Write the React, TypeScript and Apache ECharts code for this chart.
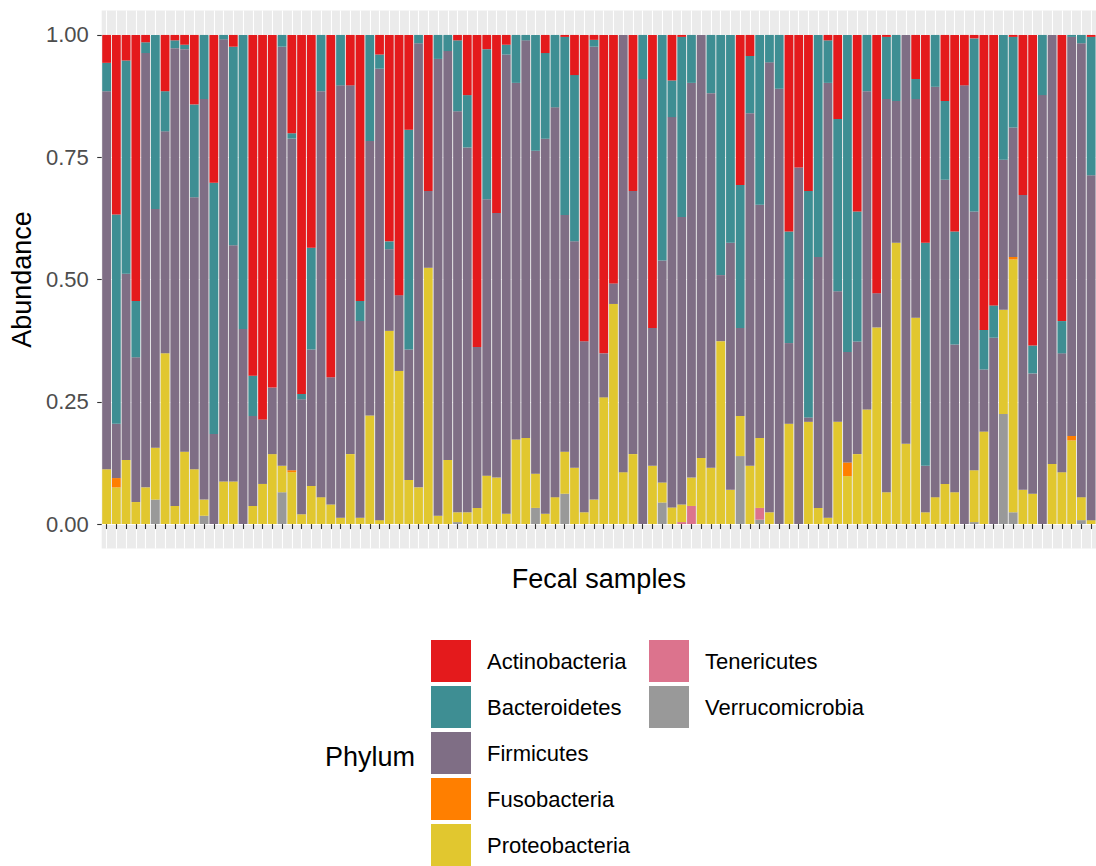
import React, { useEffect, useRef } from "react";
import * as echarts from "echarts";

const FONT = "Liberation Sans, Arial, Helvetica, sans-serif";

const phyla = [
  "Actinobacteria",
  "Bacteroidetes",
  "Firmicutes",
  "Fusobacteria",
  "Proteobacteria",
  "Tenericutes",
  "Verrucomicrobia",
];

const phylumColors: Record<string, string> = {
  Actinobacteria: "#E41A1C",
  Bacteroidetes: "#3E8E93",
  Firmicutes: "#7F6E85",
  Fusobacteria: "#FF7F00",
  Proteobacteria: "#E1C72F",
  Tenericutes: "#DC738D",
  Verrucomicrobia: "#999999",
};

const samples = Array.from({ length: 102 }, (_, i) => "S" + String(i + 1).padStart(3, "0"));

const yTicks = [0, 0.25, 0.5, 0.75, 1];

const verrucomicrobia = [
  0, 0, 0, 0, 0, 0.05, 0, 0, 0, 0, 0.017, 0, 0, 0, 0, 0, 0, 0, 0.065, 0,
  0, 0, 0, 0, 0, 0, 0, 0, 0, 0, 0, 0, 0, 0, 0, 0, 0.004, 0, 0, 0,
  0, 0, 0, 0, 0.033, 0, 0, 0.062, 0, 0, 0, 0, 0, 0, 0, 0, 0, 0.044, 0, 0,
  0, 0, 0, 0, 0, 0.139, 0, 0.009, 0, 0, 0, 0, 0, 0, 0, 0, 0, 0, 0, 0,
  0, 0, 0, 0, 0, 0, 0, 0, 0, 0.004, 0, 0, 0.225, 0.024, 0, 0, 0, 0, 0, 0,
  0.008, 0,
];

const tenericutes = [
  0, 0, 0, 0, 0, 0, 0, 0, 0, 0, 0, 0, 0, 0, 0, 0, 0, 0, 0, 0,
  0, 0, 0, 0, 0, 0, 0, 0, 0, 0, 0, 0, 0, 0, 0, 0, 0, 0, 0, 0,
  0, 0, 0, 0, 0, 0, 0, 0, 0, 0, 0, 0, 0, 0, 0, 0, 0, 0, 0, 0.004,
  0.037, 0, 0, 0, 0, 0, 0, 0.024, 0, 0, 0, 0, 0, 0, 0, 0, 0, 0, 0, 0,
  0, 0, 0, 0, 0, 0, 0, 0, 0, 0, 0, 0, 0, 0, 0, 0, 0, 0, 0, 0,
  0, 0,
];

const proteobacteria = [
  0.112, 0.075, 0.131, 0.045, 0.075, 0.106, 0.349, 0.037, 0.148, 0.112,
  0.033, 0, 0.087, 0.087, 0, 0.037, 0.082, 0.143, 0.054, 0.106,
  0.02, 0.078, 0.055, 0.04, 0.013, 0.143, 0.013, 0.222, 0.008, 0.395,
  0.313, 0.09, 0.075, 0.524, 0.017, 0.131, 0.02, 0.024, 0.033, 0.099,
  0.095, 0.021, 0.173, 0.176, 0.07, 0.021, 0.055, 0.086, 0.115, 0.024,
  0.05, 0.259, 0.45, 0.106, 0.143, 0, 0.119, 0.041, 0.034, 0.036,
  0.058, 0.135, 0.115, 0.374, 0.07, 0.082, 0.119, 0.143, 0.024, 0,
  0.205, 0, 0.209, 0.033, 0.013, 0.209, 0.098, 0.143, 0.234, 0.402,
  0.065, 0.575, 0.164, 0.422, 0.024, 0.055, 0.082, 0.065, 0, 0.106,
  0.189, 0, 0.213, 0.517, 0.07, 0.062, 0, 0.123, 0.106, 0.171,
  0.047, 0.008,
];

const fusobacteria = [
  0, 0.019, 0, 0, 0, 0, 0, 0, 0, 0, 0, 0, 0, 0, 0, 0, 0, 0, 0, 0.004,
  0, 0, 0, 0, 0, 0, 0, 0, 0, 0, 0, 0, 0, 0, 0, 0, 0, 0, 0, 0,
  0, 0, 0, 0, 0, 0, 0, 0, 0, 0, 0, 0, 0, 0, 0, 0, 0, 0, 0, 0,
  0, 0, 0, 0, 0, 0, 0, 0, 0, 0, 0, 0, 0, 0, 0, 0, 0.028, 0, 0, 0,
  0, 0, 0, 0, 0, 0, 0, 0, 0, 0, 0, 0, 0, 0.005, 0, 0, 0, 0, 0, 0.009,
  0, 0,
];

const firmicutes = [
  0.773, 0.111, 0.381, 0.296, 0.888, 0.488, 0.454, 0.936, 0.823, 0.556,
  0.819, 0.184, 0.904, 0.483, 0.399, 0.184, 0.132, 0.136, 0.857, 0.678,
  0.235, 0.279, 0.83, 0.26, 0.884, 0.754, 0.402, 0.561, 0.923, 0.167,
  0.155, 0.267, 0.908, 0.157, 0.934, 0.836, 0.82, 0.746, 0.329, 0.565,
  0.541, 0.939, 0.729, 0.813, 0.66, 0.767, 0.797, 0.484, 0.463, 0.35,
  0.926, 0.09, 0.042, 0.894, 0.538, 0.91, 0.282, 0.454, 0.798, 0.588,
  0.807, 0.865, 0.766, 0.135, 0.505, 0.18, 0.721, 0.477, 0.92, 0.89,
  0.165, 0.729, 0.009, 0.513, 0.889, 0.267, 0.226, 0.23, 0.651, 0.07,
  0.804, 0.29, 0.836, 0.447, 0.095, 0.839, 0.622, 0.302, 0.897, 0.529,
  0.127, 0.381, 0.307, 0.265, 0.603, 0.246, 0.877, 0.877, 0.243, 0.816,
  0.928, 0.705,
];

const bacteroidetes = [
  0.058, 0.428, 0.436, 0.115, 0.022, 0.356, 0.082, 0.016, 0.009, 0.19,
  0.131, 0.514, 0.009, 0.406, 0.601, 0.082, 0, 0, 0.024, 0.011,
  0.011, 0.208, 0.115, 0, 0.103, 0, 0.041, 0.217, 0.029, 0.016,
  0, 0.449, 0.017, 0, 0.049, 0.033, 0.145, 0.107, 0, 0.307,
  0, 0.02, 0.098, 0.011, 0.237, 0.175, 0.148, 0.364, 0.34, 0,
  0.014, 0, 0, 0, 0, 0.09, 0, 0.461, 0.075, 0.368,
  0.098, 0, 0.119, 0.491, 0.425, 0.292, 0.117, 0.347, 0.056, 0.11,
  0.228, 0, 0.463, 0.454, 0.087, 0.352, 0.648, 0.266, 0.115, 0,
  0.127, 0.135, 0, 0.041, 0.456, 0.106, 0.161, 0.231, 0, 0.354,
  0.081, 0.066, 0.255, 0.185, 0, 0.057, 0.123, 0, 0.066, 0.004,
  0.017, 0.283,
];

const actinobacteria = [
  0.057, 0.367, 0.052, 0.544, 0.015, 0, 0.115, 0.011, 0.02, 0.142,
  0, 0.302, 0, 0.024, 0, 0.697, 0.786, 0.721, 0, 0.201,
  0.734, 0.435, 0, 0.7, 0, 0.103, 0.544, 0, 0.04, 0.422,
  0.532, 0.194, 0, 0.319, 0, 0, 0.011, 0.123, 0.638, 0.029,
  0.364, 0.02, 0, 0, 0, 0.037, 0, 0.004, 0.082, 0.626,
  0.01, 0.651, 0.508, 0, 0.319, 0, 0.599, 0, 0.093, 0.004,
  0, 0, 0, 0, 0, 0.307, 0.043, 0, 0, 0,
  0.402, 0.271, 0.319, 0, 0.011, 0.172, 0, 0.361, 0, 0.528,
  0.004, 0, 0, 0.09, 0.425, 0, 0.135, 0.402, 0.103, 0.007,
  0.603, 0.553, 0, 0.004, 0.327, 0.635, 0, 0, 0.585, 0,
  0, 0.004,
];

const seriesData: Record<string, number[]> = {
  Verrucomicrobia: verrucomicrobia,
  Tenericutes: tenericutes,
  Proteobacteria: proteobacteria,
  Fusobacteria: fusobacteria,
  Firmicutes: firmicutes,
  Bacteroidetes: bacteroidetes,
  Actinobacteria: actinobacteria,
};

// stacking order: bottom to top
const stackOrder = [
  "Verrucomicrobia",
  "Tenericutes",
  "Proteobacteria",
  "Fusobacteria",
  "Firmicutes",
  "Bacteroidetes",
  "Actinobacteria",
];

export default function App() {
  const ref = useRef<HTMLDivElement>(null);

  useEffect(() => {
    if (!ref.current) return;
    const chart = echarts.init(ref.current, undefined, { renderer: "svg" });

    const legendCommon = {
      orient: "vertical" as const,
      top: 640,
      height: 300,
      padding: 0,
      itemWidth: 40,
      itemHeight: 42,
      itemGap: 4,
      icon: "rect",
      selectedMode: false,
      textStyle: {
        fontSize: 22,
        color: "#000",
        fontFamily: FONT,
        padding: [0, 0, 0, 11],
      },
    };

    chart.setOption({
      animation: false,
      textStyle: { fontFamily: FONT },
      grid: {
        left: 99.5,
        width: 997.5,
        top: 10.5,
        height: 538,
        show: true,
        backgroundColor: "#EBEBEB",
        borderWidth: 0,
        containLabel: false,
      },
      xAxis: {
        type: "category",
        data: samples,
        name: "Fecal samples",
        nameLocation: "middle",
        nameGap: 17,
        nameTextStyle: { fontSize: 27, color: "#000", fontFamily: FONT },
        axisLine: { show: false },
        axisLabel: { show: false },
        axisTick: {
          show: true,
          alignWithLabel: true,
          interval: 0,
          length: 5,
          lineStyle: { color: "#333333", width: 1.1 },
        },
        splitLine: {
          show: true,
          interval: 0,
          alignWithLabel: true,
          lineStyle: { color: "#FFFFFF", width: 1.1 },
        },
      },
      yAxis: {
        type: "value",
        min: -0.05,
        max: 1.05,
        name: "Abundance",
        nameLocation: "middle",
        nameRotate: 90,
        nameGap: 58,
        nameTextStyle: { fontSize: 27, color: "#000", fontFamily: FONT },
        axisLine: { show: false },
        axisTick: {
          show: true,
          length: 4.5,
          customValues: yTicks,
          lineStyle: { color: "#333333", width: 1.1 },
        },
        axisLabel: {
          customValues: yTicks,
          margin: 13,
          fontSize: 22,
          color: "#4D4D4D",
          fontFamily: FONT,
          formatter: (v: number) => v.toFixed(2),
        },
        splitLine: { show: true, lineStyle: { color: "#FFFFFF", width: 1.1 } },
      },
      legend: [
        {
          ...legendCommon,
          left: 431,
          data: phyla.slice(0, 5),
        },
        {
          ...legendCommon,
          left: 649,
          data: phyla.slice(5),
        },
      ],
      graphic: [
        {
          type: "text",
          x: 325,
          y: 757,
          style: {
            text: "Phylum",
            fontSize: 27,
            fill: "#000",
            fontFamily: FONT,
            verticalAlign: "middle",
          },
        },
      ],
      series: stackOrder.map((name) => ({
        name,
        type: "bar",
        stack: "total",
        barCategoryGap: "10%",
        itemStyle: { color: phylumColors[name] },
        emphasis: { disabled: true },
        data: seriesData[name],
      })),
    });

    return () => chart.dispose();
  }, []);

  return (
    <div
      ref={ref}
      style={{ position: "absolute", left: 0, top: 0, width: 1096, height: 866 }}
    />
  );
}
